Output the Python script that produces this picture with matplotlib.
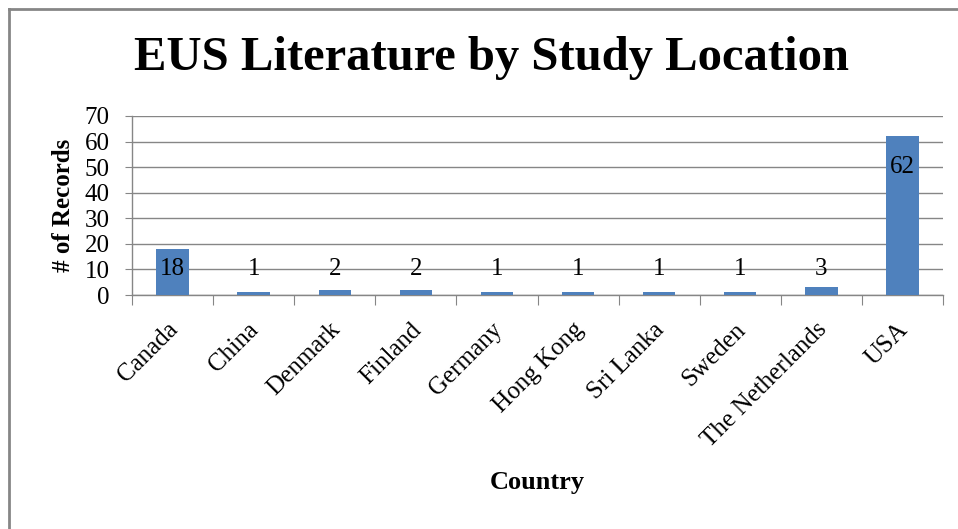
import matplotlib
matplotlib.use("Agg")
import matplotlib.pyplot as plt
from matplotlib.lines import Line2D
from matplotlib.transforms import ScaledTranslation

countries = ['Canada', 'China', 'Denmark', 'Finland', 'Germany', 'Hong Kong',
             'Sri Lanka', 'Sweden', 'The Netherlands', 'USA']
records = [18, 1, 2, 2, 1, 1, 1, 1, 3, 62]
y_ticks = [0, 10, 20, 30, 40, 50, 60, 70]

plt.rcParams['font.family'] = ['Liberation Serif', 'DejaVu Serif']

fig = plt.figure(figsize=(9.58, 5.29), dpi=100)
ax = fig.add_axes([132 / 958, 1 - 295 / 529, (943 - 132) / 958, (295 - 116) / 529])

grey = '#868686'
x = list(range(len(countries)))
ax.bar(x, records, width=0.4, color='#4F81BD', zorder=3)

for xi, v in zip(x, records):
    ax.text(xi, max(v - 12, 10), str(v), ha='center', va='center',
            fontsize=18, zorder=4)

ax.set_xlim(-0.5, len(countries) - 0.5)
ax.set_ylim(0, 70)
ax.set_yticks(y_ticks)
ax.tick_params(axis='y', labelsize=18, length=5, color=grey, pad=11)
ax.grid(axis='y', color=grey, linewidth=1, zorder=0)

# tick marks between categories, labels at centres
ax.set_xticks([i - 0.5 for i in range(len(countries) + 1)])
ax.set_xticklabels([])
ax.tick_params(axis='x', which='major', length=7, color=grey)
ax.set_xticks(x, minor=True)
ax.set_xticklabels(countries, minor=True, rotation=45, ha='right',
                   rotation_mode='anchor', fontsize=18)
ax.tick_params(axis='x', which='minor', length=0, pad=17)
shift = ScaledTranslation(-0.06, 0, fig.dpi_scale_trans)
for lbl in ax.get_xticklabels(minor=True):
    lbl.set_transform(lbl.get_transform() + shift)

for s in ['top', 'right']:
    ax.spines[s].set_visible(False)
for s in ['left', 'bottom']:
    ax.spines[s].set_color(grey)
    ax.spines[s].set_linewidth(1)

ax.set_ylabel('# of Records', fontsize=18, fontweight='bold', labelpad=7)
fig.text(537 / 958, 1 - 483 / 529, 'Country', ha='center', va='center',
         fontsize=19, fontweight='bold')
fig.text(491 / 958, 1 - 58 / 529, 'EUS Literature by Study Location',
         ha='center', va='center', fontsize=35, fontweight='bold')

# chart border (top and left edges visible)
fig.add_artist(Line2D([9 / 958, 9 / 958], [0, 1 - 9 / 529], color=grey, linewidth=2))
fig.add_artist(Line2D([9 / 958, 1], [1 - 9 / 529, 1 - 9 / 529], color=grey, linewidth=2))

fig.savefig('out.png', dpi=100)
